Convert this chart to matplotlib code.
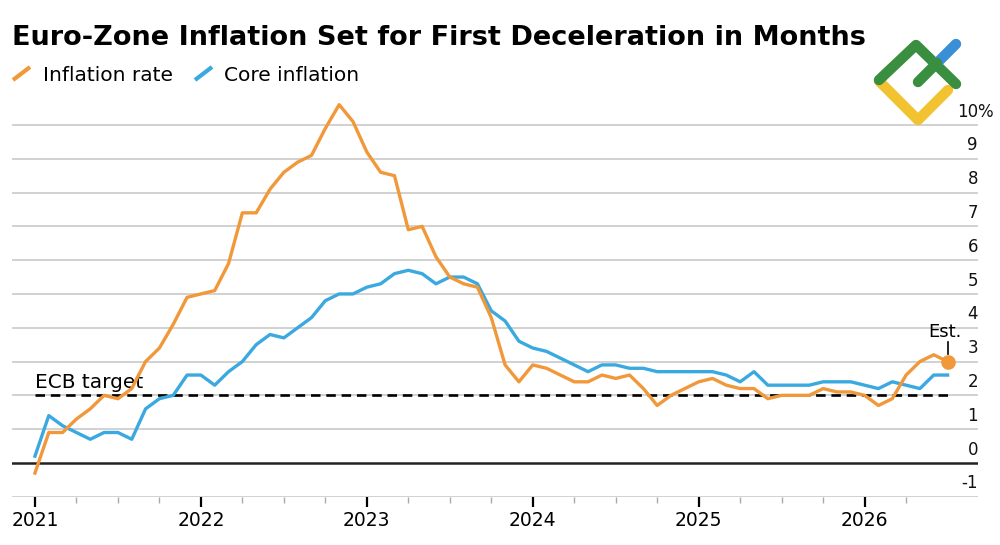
import numpy as np
import matplotlib
matplotlib.use("Agg")
import matplotlib.pyplot as plt
from matplotlib.lines import Line2D
from matplotlib import transforms

# monthly readings, first point = start of 2021 on the axis
inflation = [-0.3, 0.9, 0.9, 1.3, 1.6, 2.0, 1.9, 2.2, 3.0, 3.4, 4.1, 4.9, 5.0,
             5.1, 5.9, 7.4, 7.4, 8.1, 8.6, 8.9, 9.1, 9.9, 10.6, 10.1, 9.2,
             8.6, 8.5, 6.9, 7.0, 6.1, 5.5, 5.3, 5.2, 4.3, 2.9, 2.4, 2.9,
             2.8, 2.6, 2.4, 2.4, 2.6, 2.5, 2.6, 2.2, 1.7, 2.0, 2.2, 2.4,
             2.5, 2.3, 2.2, 2.2, 1.9, 2.0, 2.0, 2.0, 2.2, 2.1, 2.1, 2.0,
             1.7, 1.9, 2.6, 3.0, 3.2]
inflation_est = 3.0
core = [0.2, 1.4, 1.1, 0.9, 0.7, 0.9, 0.9, 0.7, 1.6, 1.9, 2.0, 2.6, 2.6,
        2.3, 2.7, 3.0, 3.5, 3.8, 3.7, 4.0, 4.3, 4.8, 5.0, 5.0, 5.2,
        5.3, 5.6, 5.7, 5.6, 5.3, 5.5, 5.5, 5.3, 4.5, 4.2, 3.6, 3.4,
        3.3, 3.1, 2.9, 2.7, 2.9, 2.9, 2.8, 2.8, 2.7, 2.7, 2.7, 2.7,
        2.7, 2.6, 2.4, 2.7, 2.3, 2.3, 2.3, 2.3, 2.4, 2.4, 2.4, 2.3,
        2.2, 2.4, 2.3, 2.2, 2.6, 2.6]
ecb_target = 2.0
years = ["2021", "2022", "2023", "2024", "2025", "2026"]
y_ticks = [-1, 0, 1, 2, 3, 4, 5, 6, 7, 8, 9, 10]

ORANGE = "#F0983A"
BLUE = "#3AA9E0"
W, H = 1000, 545


def px(x, y):
    return x / W, 1 - y / H


fig = plt.figure(figsize=(W / 100, H / 100), dpi=100)
ax = fig.add_axes([0.012, 0.0886, 0.966, 0.7441])
ax.set_xlim(-1.66, 68.2)
ax.set_ylim(-1, 11)
for s in ax.spines.values():
    s.set_visible(False)

# grid
for v in y_ticks:
    if v == 0:
        ax.axhline(0, color="#222222", lw=1.8, zorder=2)
    else:
        ax.axhline(v, color="#c9c9c9", lw=1.2, zorder=1)

# y labels sit above their gridlines, on the right
off = transforms.offset_copy(ax.get_yaxis_transform(), fig=fig, x=0, y=6, units="points")
off_pct = transforms.offset_copy(ax.get_yaxis_transform(), fig=fig, x=-0.5, y=6, units="points")
for v in y_ticks:
    ax.text(1.0, v, str(v), transform=off, ha="right", va="baseline", fontsize=12, color="#111111")
    if v == 10:
        ax.text(1.0, v, "%", transform=off_pct, ha="left", va="baseline", fontsize=12, color="#111111")

# ECB target
n = len(core)
ax.plot([0, n - 1], [ecb_target, ecb_target], color="black", lw=1.9, dashes=(3.6, 2.2), zorder=3)
ax.text(0, ecb_target, "ECB target", fontsize=14.5, ha="left", va="baseline",
        transform=transforms.offset_copy(ax.transData, fig=fig, y=5, units="points"))

# series
xi = np.arange(len(inflation))
ax.plot(np.arange(n), core, color=BLUE, lw=2.4, zorder=4)
ax.plot(np.append(xi, len(inflation)), inflation + [inflation_est], color=ORANGE, lw=2.4, zorder=5)
ax.scatter([len(inflation)], [inflation_est], s=90, color=ORANGE, zorder=6)
ax.plot([len(inflation), len(inflation)], [3.22, 3.58], color="black", lw=1.2, zorder=6)
ax.text(len(inflation) - 0.2, 3.72, "Est.", fontsize=13, ha="center", va="baseline")

# x ticks
ax.set_xticks(np.arange(0, 12 * len(years), 12))
ax.set_xticklabels(years, fontsize=13.5)
ax.set_xticks([m for m in range(3, 64, 3) if m % 12], minor=True)
ax.tick_params(axis="x", which="major", length=7.5, width=1.6, color="black", pad=3)
ax.tick_params(axis="x", which="minor", length=4.5, width=1, color="#aaaaaa")
ax.set_yticks([])

# title and legend
fig.text(*px(12, 45), "Euro-Zone Inflation Set for First Deceleration in Months",
         fontsize=19.5, fontweight="bold", va="baseline", ha="left")
for (x0, col, lab, tx) in [(13, ORANGE, "Inflation rate", 43), (195, BLUE, "Core inflation", 224)]:
    a, b = px(x0, 80)
    c, d = px(x0 + 17, 67)
    fig.add_artist(Line2D([a, c], [b, d], color=col, lw=3, solid_capstyle="butt"))
    fig.text(*px(tx, 81), lab, fontsize=14.5, va="baseline", ha="left")

# logo
def stroke(pts, col):
    xs, ys = zip(*[px(*p) for p in pts])
    fig.add_artist(Line2D(xs, ys, color=col, lw=7.5, solid_capstyle="round", solid_joinstyle="round"))

stroke([(879, 81), (918, 120), (948, 90)], "#F2C230")
stroke([(879, 80), (916, 45), (956, 84)], "#3A8E3F")
stroke([(937, 63), (956, 44)], "#3A8FD8")
stroke([(918, 82), (937, 63)], "#3A8E3F")

fig.savefig("out.png", dpi=100)
